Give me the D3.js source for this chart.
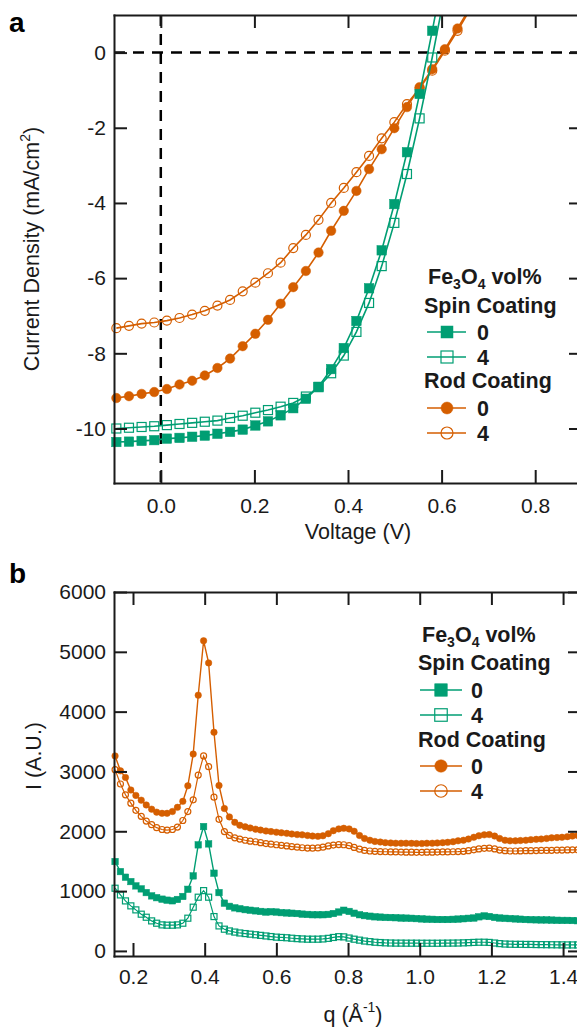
<html>
<head>
<style>
  body { margin: 0; background: #fff; }
  svg { display: block; font-family: "Liberation Sans", Arial, sans-serif; }
</style>
<script src="https://d3js.org/d3.v7.min.js"></script>
</head>
<body>
<svg width=577 height=1033></svg>
<script>

// ---- panel a : J-V curves ----
const voltage = [-0.095,-0.068,-0.041,-0.014,0.013,0.040,0.067,0.094,0.121,0.148,0.175,0.202,0.229,0.256,0.283,
    0.310,0.337,0.364,0.391,0.418,0.445,0.472,0.499,0.526,0.553,0.580,0.607,0.634,0.661];
const jSpin0 = [-10.36,-10.35,-10.33,-10.31,-10.27,-10.25,-10.22,-10.19,-10.14,-10.09,-10.03,-9.92,-9.81,-9.65,-9.46,
    -9.21,-8.89,-8.42,-7.86,-7.14,-6.27,-5.26,-4.03,-2.65,-1.10,0.58,2.3];
const jSpin4 = [-10.00,-9.98,-9.96,-9.94,-9.91,-9.88,-9.85,-9.82,-9.79,-9.72,-9.66,-9.58,-9.51,-9.42,-9.32,
    -9.15,-8.90,-8.53,-8.06,-7.43,-6.66,-5.68,-4.53,-3.23,-1.75,-0.13,1.6];
const jRod0 = [-9.19,-9.14,-9.08,-9.03,-8.95,-8.83,-8.73,-8.59,-8.39,-8.14,-7.81,-7.48,-7.11,-6.68,-6.24,
    -5.81,-5.32,-4.74,-4.21,-3.68,-3.10,-2.57,-2.01,-1.45,-0.92,-0.44,0.09,0.64,1.2];
const jRod4 = [-7.33,-7.27,-7.21,-7.18,-7.13,-7.06,-6.97,-6.87,-6.73,-6.58,-6.35,-6.12,-5.87,-5.59,-5.20,
    -4.85,-4.45,-4.00,-3.60,-3.18,-2.75,-2.28,-1.85,-1.37,-0.95,-0.48,0.05,0.58,1.15];
const vTicks = [0, 0.2, 0.4, 0.6, 0.8];
const jTicks = [0, -2, -4, -6, -8, -10];

// ---- panel b : scattering ----
const qValues = [0.150,0.165,0.179,0.194,0.208,0.223,0.237,0.252,0.266,0.281,0.295,0.310,0.324,0.339,0.353,
    0.368,0.382,0.397,0.411,0.426,0.440,0.455,0.469,0.484,0.498,0.513,0.527,0.542,0.556,0.571,
    0.585,0.600,0.614,0.629,0.643,0.658,0.672,0.687,0.701,0.716,0.730,0.745,0.759,0.774,0.788,
    0.803,0.817,0.832,0.846,0.861,0.875,0.890,0.904,0.919,0.933,0.948,0.962,0.977,0.991,1.006,
    1.020,1.035,1.049,1.064,1.078,1.093,1.107,1.122,1.136,1.151,1.165,1.180,1.194,1.209,1.223,
    1.238,1.252,1.267,1.281,1.296,1.310,1.325,1.339,1.354,1.368,1.383,1.397,1.412,1.426,1.441];
const iRod0 = [3260,3010,2900,2690,2600,2520,2440,2370,2320,2300,
    2300,2330,2400,2500,2760,3290,4275,5185,4815,3655,
    2765,2380,2240,2150,2100,2075,2055,2035,2020,2005,
    1995,1985,1975,1965,1955,1945,1940,1930,1920,1915,
    1925,1960,2010,2040,2050,2040,2000,1930,1880,1850,
    1830,1820,1810,1805,1800,1800,1800,1798,1795,1795,
    1800,1800,1805,1810,1815,1825,1840,1850,1870,1900,
    1925,1940,1945,1920,1880,1850,1840,1840,1845,1850,
    1860,1865,1870,1880,1890,1895,1900,1910,1920,1930];
const iRod4 = [3030,2790,2610,2470,2350,2250,2170,2110,2060,2030,
    2020,2030,2070,2180,2330,2525,2940,3260,3080,2570,
    2200,1995,1930,1890,1870,1850,1835,1825,1810,1795,
    1785,1775,1765,1755,1745,1735,1725,1720,1718,1722,
    1735,1755,1770,1778,1775,1760,1730,1700,1680,1670,
    1665,1660,1658,1655,1655,1652,1650,1650,1648,1648,
    1650,1650,1652,1655,1655,1658,1660,1665,1675,1690,
    1705,1715,1718,1705,1685,1675,1670,1670,1672,1675,
    1675,1678,1680,1680,1682,1685,1685,1688,1690,1690];
const iSpin0 = [1494,1326,1232,1159,1087,1037,975,920,890,865,
    848,838,860,910,1030,1254,1773,2079,1789,1299,
    975,798,745,720,705,690,680,670,660,650,
    655,650,640,635,630,625,615,610,605,605,
    605,610,625,650,680,660,630,605,590,580,
    570,565,560,558,555,550,548,545,540,535,
    530,528,525,525,525,528,532,538,545,550,
    570,585,575,560,550,545,540,535,530,525,
    522,520,518,518,515,512,510,510,508,505];
const iSpin4 = [1048,936,836,753,686,614,563,502,463,435,
    430,430,435,463,547,731,898,1008,898,574,
    418,363,334,315,300,290,280,270,260,250,
    240,230,225,220,212,205,200,196,196,196,
    200,210,225,238,235,215,196,180,165,155,
    145,140,135,132,130,130,129,129,129,128,
    128,128,128,129,130,131,132,135,138,142,
    145,145,142,132,122,115,112,110,110,108,
    108,106,105,104,103,102,101,100,100,100];
const qTicks = [0.2, 0.4, 0.6, 0.8, 1.0, 1.2, 1.4];
const iTicks = [0, 1000, 2000, 3000, 4000, 5000, 6000];

const legendGroups = ["Spin Coating", "Rod Coating"];
const legendValues = ["0", "4"];

const green = "#009E73";
const orange = "#D55E00";
const ink = "#1a1a1a";

const svg = d3.select("svg");
const fmt1 = d => d3.format(".1f")(d).replace("\u2212", "-");
const fmt0 = d => String(d);

// frame with ticks on all four sides, pointing inward
function frame(g, x, y, xt, yt, xfmt, yfmt, xpad) {
    const [x0, x1] = x.range();
    const [y0, y1] = y.range();
    g.append("g").attr("transform", `translate(0,${y0})`)
        .call(d3.axisBottom(x).tickValues(xt).tickSize(-13).tickSizeOuter(0).tickPadding(xpad).tickFormat(xfmt));
    g.append("g").attr("transform", `translate(0,${y1})`)
        .call(d3.axisTop(x).tickValues(xt).tickSize(-13).tickSizeOuter(0).tickFormat(""));
    g.append("g").attr("transform", `translate(${x0},0)`)
        .call(d3.axisLeft(y).tickValues(yt).tickSize(-13).tickSizeOuter(0).tickPadding(8).tickFormat(yfmt));
    g.append("g").attr("transform", `translate(${x1},0)`)
        .call(d3.axisRight(y).tickValues(yt).tickSize(-13).tickSizeOuter(0).tickFormat(""));
    g.selectAll(".domain").attr("stroke", ink).attr("stroke-width", 2).attr("stroke-linecap", "square");
    g.selectAll(".tick line").attr("stroke", ink).attr("stroke-width", 2);
    g.selectAll(".tick text").attr("fill", ink).style("font-family", "'Liberation Sans', Arial, sans-serif").style("font-size", "21px");
}

function series(g, pts, x, y, color, shape, filled, size, lw) {
    g.append("path")
        .datum(pts)
        .attr("fill", "none")
        .attr("stroke", color)
        .attr("stroke-width", lw)
        .attr("d", d3.line().x(d => x(d[0])).y(d => y(d[1])));
    markers(g, pts.map(d => [x(d[0]), y(d[1])]), color, shape, filled, size);
}

function markers(g, pts, color, shape, filled, size) {
    if (shape === "square") {
        g.append("g").selectAll("rect").data(pts).join("rect")
            .attr("x", d => d[0] - size / 2).attr("y", d => d[1] - size / 2)
            .attr("width", size).attr("height", size)
            .attr("fill", filled ? color : "none")
            .attr("stroke", color).attr("stroke-width", filled ? 0.5 : 1.2);
    } else {
        g.append("g").selectAll("circle").data(pts).join("circle")
            .attr("cx", d => d[0]).attr("cy", d => d[1]).attr("r", size / 2)
            .attr("fill", filled ? color : "none")
            .attr("stroke", color).attr("stroke-width", filled ? 0.5 : 1.2);
    }
}

function legend(g, lx, hy, gy, rows, line0, line1, mx, nx, msize) {
    const t = g.append("text").attr("x", lx + 4).attr("y", hy)
        .style("font-size", "21.5px").style("font-weight", "bold").attr("fill", ink);
    t.append("tspan").text("Fe");
    t.append("tspan").attr("dy", 5).style("font-size", "14px").text("3");
    t.append("tspan").attr("dy", -5).text("O");
    t.append("tspan").attr("dy", 5).style("font-size", "14px").text("4");
    t.append("tspan").attr("dy", -5).text(" vol%");
    const styles = [[green, "square"], [orange, "circle"]];
    legendGroups.forEach((name, k) => {
        g.append("text").attr("x", lx).attr("y", gy[k])
            .style("font-size", "21.5px").style("font-weight", "bold").attr("fill", ink).text(name);
        legendValues.forEach((v, j) => {
            const ry = rows[k * 2 + j];
            g.append("line").attr("x1", line0).attr("x2", line1).attr("y1", ry).attr("y2", ry)
                .attr("stroke", styles[k][0]).attr("stroke-width", 1.6);
            markers(g, [[mx, ry]], styles[k][0], styles[k][1], j === 0, msize);
            g.append("text").attr("x", nx).attr("y", ry + 8)
                .style("font-size", "21.5px").style("font-weight", "bold").attr("fill", ink).text(v);
        });
    });
}

// ---------------- panel a ----------------
const xa = d3.scaleLinear().domain([-0.1, 0.9]).range([114, 582]);
const ya = d3.scaleLinear().domain([-11.45, 1]).range([483, 15]);

const ga = svg.append("g");
ga.append("clipPath").attr("id", "clipa").append("rect")
    .attr("x", 100).attr("y", 15).attr("width", 500).attr("height", 468);

ga.append("line").attr("x1", xa(-0.1)).attr("x2", xa(0.9)).attr("y1", ya(0)).attr("y2", ya(0))
    .attr("stroke", "#000").attr("stroke-width", 2.5).attr("stroke-dasharray", "11,8");
ga.append("line").attr("x1", xa(0)).attr("x2", xa(0)).attr("y1", ya(1)).attr("y2", ya(-11.45))
    .attr("stroke", "#000").attr("stroke-width", 2.5).attr("stroke-dasharray", "11,8");

const pa = ga.append("g").attr("clip-path", "url(#clipa)");
series(pa, d3.zip(voltage, jRod4), xa, ya, orange, "circle", false, 9, 1.6);
series(pa, d3.zip(voltage, jRod0), xa, ya, orange, "circle", true, 9.5, 1.6);
series(pa, d3.zip(voltage, jSpin4), xa, ya, green, "square", false, 9, 1.6);
series(pa, d3.zip(voltage, jSpin0), xa, ya, green, "square", true, 9.5, 1.6);

frame(ga, xa, ya, vTicks, jTicks, fmt1, fmt0, 15);

const yta = ga.append("text").attr("transform", "translate(39,249) rotate(-90)")
    .attr("text-anchor", "middle").style("font-size", "21.5px").attr("fill", ink);
yta.append("tspan").text("Current Density (mA/cm");
yta.append("tspan").attr("dy", -9).style("font-size", "14px").text("2");
yta.append("tspan").attr("dy", 9).text(")");

ga.append("text").attr("x", 358).attr("y", 539).attr("text-anchor", "middle")
    .style("font-size", "21.5px").attr("fill", ink).text("Voltage (V)");

legend(ga, 424, 284, [313, 388], [332, 357, 408, 433], 427, 466, 447, 477, 12);

ga.append("text").attr("x", 9).attr("y", 32).style("font-size", "28px").style("font-weight", "bold")
    .attr("fill", "#000").text("a");

// ---------------- panel b ----------------
const xb = d3.scaleLinear().domain([0.147, 1.45]).range([114, 581]);
const yb = d3.scaleLinear().domain([-85, 6000]).range([956, 592]);

const gb = svg.append("g");
series(gb, d3.zip(qValues, iRod0), xb, yb, orange, "circle", true, 6.5, 1.4);
series(gb, d3.zip(qValues, iRod4), xb, yb, orange, "circle", false, 6, 1.2);
series(gb, d3.zip(qValues, iSpin0), xb, yb, green, "square", true, 6.5, 1.4);
series(gb, d3.zip(qValues, iSpin4), xb, yb, green, "square", false, 6, 1.2);

frame(gb, xb, yb, qTicks, iTicks, fmt1, fmt0, 13);

gb.append("text").attr("transform", "translate(41,756) rotate(-90)")
    .attr("text-anchor", "middle").style("font-size", "21.5px").attr("fill", ink).text("I (A.U.)");

const xtb = gb.append("text").attr("x", 353).attr("y", 1022).attr("text-anchor", "middle")
    .style("font-size", "21.5px").attr("fill", ink);
xtb.append("tspan").text("q (\u00C5");
xtb.append("tspan").attr("dy", -10).style("font-size", "14px").text("-1");
xtb.append("tspan").attr("dy", 10).text(")");

legend(gb, 418, 642, [670, 747], [690, 715, 766, 791], 420, 462, 441, 471, 12.5);

gb.append("text").attr("x", 9).attr("y", 583).style("font-size", "28px").style("font-weight", "bold")
    .attr("fill", "#000").text("b");

</script>
</body>
</html>
